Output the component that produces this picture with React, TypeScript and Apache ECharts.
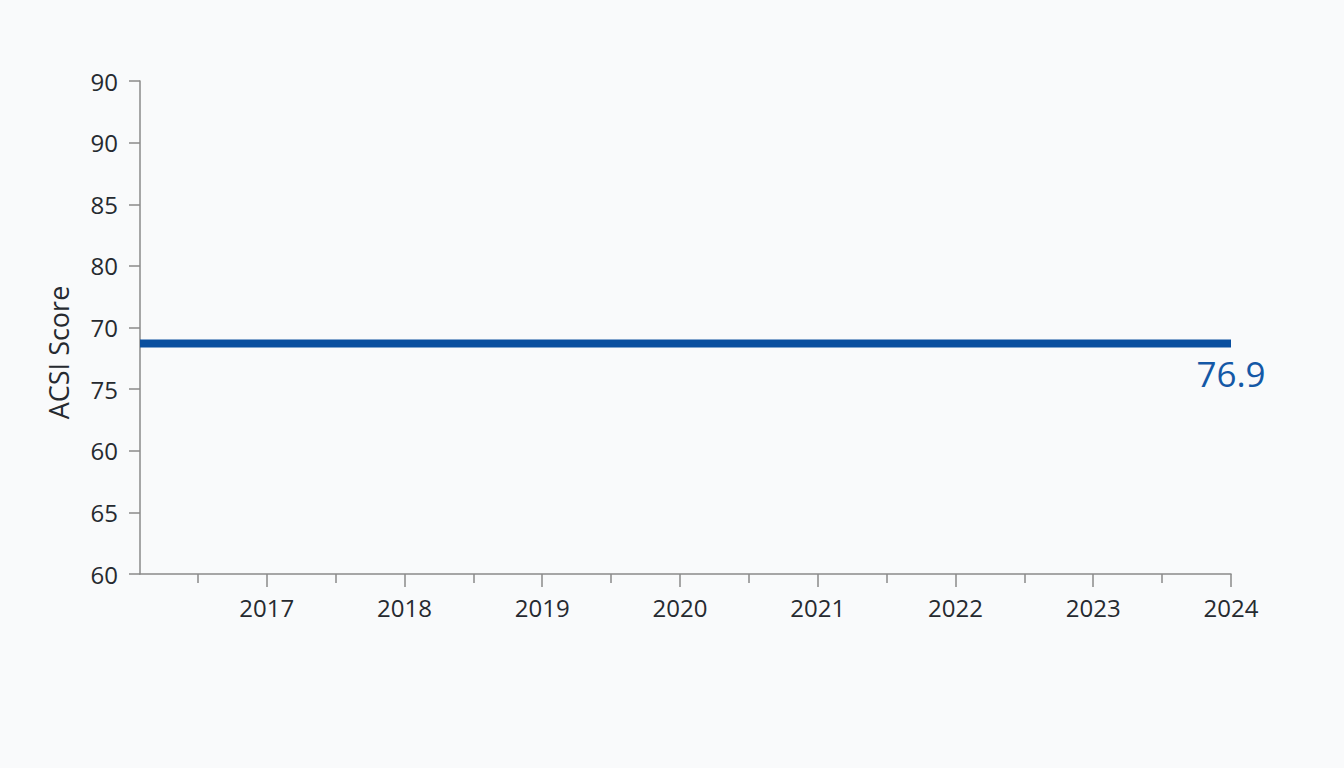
import { useEffect, useRef } from 'react';
import * as echarts from 'echarts';

// x軸: 年（線は軸の左端から始まる）
const xStart = 2016.08;
const years = [2017, 2018, 2019, 2020, 2021, 2022, 2023, 2024];
const halfYears = [2016.5, 2017.5, 2018.5, 2019.5, 2020.5, 2021.5, 2022.5, 2023.5];

// y軸の目盛りラベル（下から上へ、元の図のまま）
const yTickLabels = ['60', '65', '60', '75', '70', '80', '85', '90', '90'];

// 系列の値（図上の位置から読み取り）
const lineValue = 78.7;
const lineXs = [xStart, ...years];
const endLabelText = '76.9';

const FONT = '"Open Sans", "Noto Sans", sans-serif';
const LINE_COLOR = '#0a4f9f';

const App: React.FC = () => {
  const chartRef = useRef<HTMLDivElement>(null);

  useEffect(() => {
    if (!chartRef.current) return;
    const chart = echarts.init(chartRef.current, undefined, { renderer: 'svg' });

    const data = lineXs.map((x, i) => {
      if (i === lineXs.length - 1) {
        return {
          value: [x, lineValue],
          label: {
            show: true,
            position: 'bottom',
            distance: 12,
            formatter: endLabelText,
            fontSize: 35,
            fontFamily: FONT,
            color: '#1458a6',
          },
        };
      }
      return { value: [x, lineValue] };
    });

    const option: echarts.EChartsOption = {
      animation: false,
      backgroundColor: '#f9fafb',
      grid: { left: 140, right: 113, top: 81, bottom: 194 },
      xAxis: [
        {
          type: 'value',
          position: 'bottom',
          min: xStart,
          max: 2024,
          axisLine: { show: true, lineStyle: { color: '#8a8a8a', width: 1.5 } },
          axisTick: { show: true, customValues: years, length: 13, lineStyle: { color: '#8a8a8a', width: 1.5 } },
          axisLabel: {
            customValues: years,
            margin: 21,
            fontSize: 24,
            fontFamily: FONT,
            color: '#262a30',
            formatter: (v: number) => String(Math.round(v)),
          },
          splitLine: { show: false },
        },
        {
          type: 'value',
          position: 'bottom',
          min: xStart,
          max: 2024,
          axisLine: { show: false },
          axisTick: { show: true, customValues: halfYears, length: 9, lineStyle: { color: '#8a8a8a', width: 1.5 } },
          axisLabel: { show: false },
          splitLine: { show: false },
        },
      ],
      yAxis: {
        type: 'value',
        min: 60,
        max: 100,
        interval: 5,
        name: 'ACSI Score',
        nameLocation: 'middle',
        nameGap: 68,
        nameRotate: 90,
        nameTextStyle: {
          fontSize: 27,
          fontFamily: FONT,
          color: '#262a30',
          padding: [0, 50, 0, 0],
        },
        axisLine: { show: true, lineStyle: { color: '#8a8a8a', width: 1.5 } },
        axisTick: { show: true, length: 11, lineStyle: { color: '#8a8a8a', width: 1.5 } },
        axisLabel: {
          margin: 22,
          fontSize: 24,
          fontFamily: FONT,
          color: '#262a30',
          formatter: (v: number) => yTickLabels[Math.round((v - 60) / 5)] ?? '',
        },
        splitLine: { show: false },
      },
      series: [
        {
          type: 'line',
          xAxisIndex: 0,
          data,
          symbol: 'circle',
          symbolSize: 0.1,
          showSymbol: true,
          itemStyle: { color: LINE_COLOR },
          lineStyle: { color: LINE_COLOR, width: 8, cap: 'butt' },
        },
      ],
    };

    chart.setOption(option);

    const handleResize = () => chart.resize();
    window.addEventListener('resize', handleResize);
    return () => {
      window.removeEventListener('resize', handleResize);
      chart.dispose();
    };
  }, []);

  return (
    <div
      ref={chartRef}
      style={{ position: 'fixed', left: 0, top: 0, width: '100vw', height: '100vh' }}
    />
  );
};

export default App;
